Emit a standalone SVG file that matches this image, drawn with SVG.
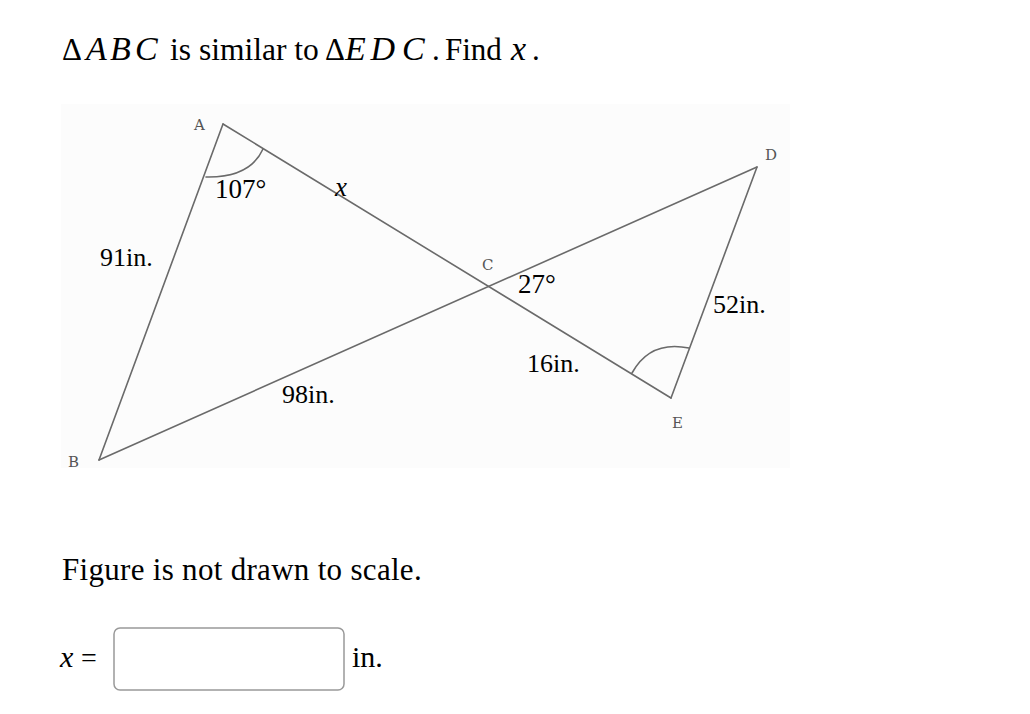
<svg xmlns="http://www.w3.org/2000/svg" width="1030" height="714" viewBox="0 0 1030 714">
<style>
.t{font-family:"Liberation Serif","Times New Roman",serif;fill:#000}
.m{font-family:"Liberation Serif","Times New Roman",serif;font-style:italic;fill:#000}
.lbl{font-family:"DejaVu Serif","Liberation Serif",serif;font-size:15px;fill:#555}
.edge{stroke:#6a6a6a;stroke-width:1.6;fill:none;stroke-linecap:round}
</style>
<rect width="1030" height="714" fill="#fff"/>
<g id="title" font-size="31">
<text class="t" x="62" y="60">Δ</text>
<text class="m" x="86 110 135" y="60" font-size="34">ABC</text>
<text class="t" x="170" y="60" font-size="31.5">is similar to</text>
<text class="t" x="325" y="60">Δ</text>
<text class="m" x="345 370.5 402" y="60" font-size="34">EDC</text>
<text class="t" x="432" y="60">.</text>
<text class="t" x="445" y="60">Find</text>
<text class="m" x="511" y="60" font-size="34">x</text>
<text class="t" x="532" y="60">.</text>
</g>
<rect id="figure-bg" x="61" y="104" width="729" height="364" fill="#fcfcfc"/>
<g id="connectors">
<line class="edge" x1="223" y1="124" x2="99" y2="460"/>
<line class="edge" x1="223" y1="124" x2="671" y2="398"/>
<line class="edge" x1="99" y1="460" x2="757" y2="167"/>
<line class="edge" x1="757" y1="167" x2="671" y2="398"/>
<path class="edge" d="M206,177 Q250,178 263,149"/>
<path class="edge" d="M632,373 Q650,340 689,348"/>
</g>
<g id="node-A"><text class="lbl" x="194" y="130">A</text></g>
<g id="node-B"><text class="lbl" x="68" y="467">B</text></g>
<g id="node-C"><text class="lbl" x="482" y="270">C</text></g>
<g id="node-D"><text class="lbl" x="765" y="160">D</text></g>
<g id="node-E"><text class="lbl" x="672" y="428">E</text></g>
<g id="labels">
<text class="t" x="215" y="198" font-size="27">107°</text>
<text class="m" x="335" y="196" font-size="27">x</text>
<text class="t" x="100" y="266" font-size="26">91in.</text>
<text class="t" x="518" y="293" font-size="27">27°</text>
<text class="t" x="713" y="313" font-size="26">52in.</text>
<text class="t" x="527" y="372" font-size="26">16in.</text>
<text class="t" x="282" y="403" font-size="26">98in.</text>
</g>
<g id="note">
<text class="t" x="62" y="580" font-size="31" letter-spacing="0.3">Figure is not drawn to scale.</text>
</g>
<g id="answer">
<text class="m" x="60" y="667" font-size="30">x</text>
<text class="t" x="81" y="667" font-size="28">=</text>
<rect x="114" y="628" width="230" height="62" rx="6" ry="6" fill="#fff" stroke="#999" stroke-width="1.5"/>
<text class="t" x="352" y="667" font-size="30">in.</text>
</g>
</svg>
